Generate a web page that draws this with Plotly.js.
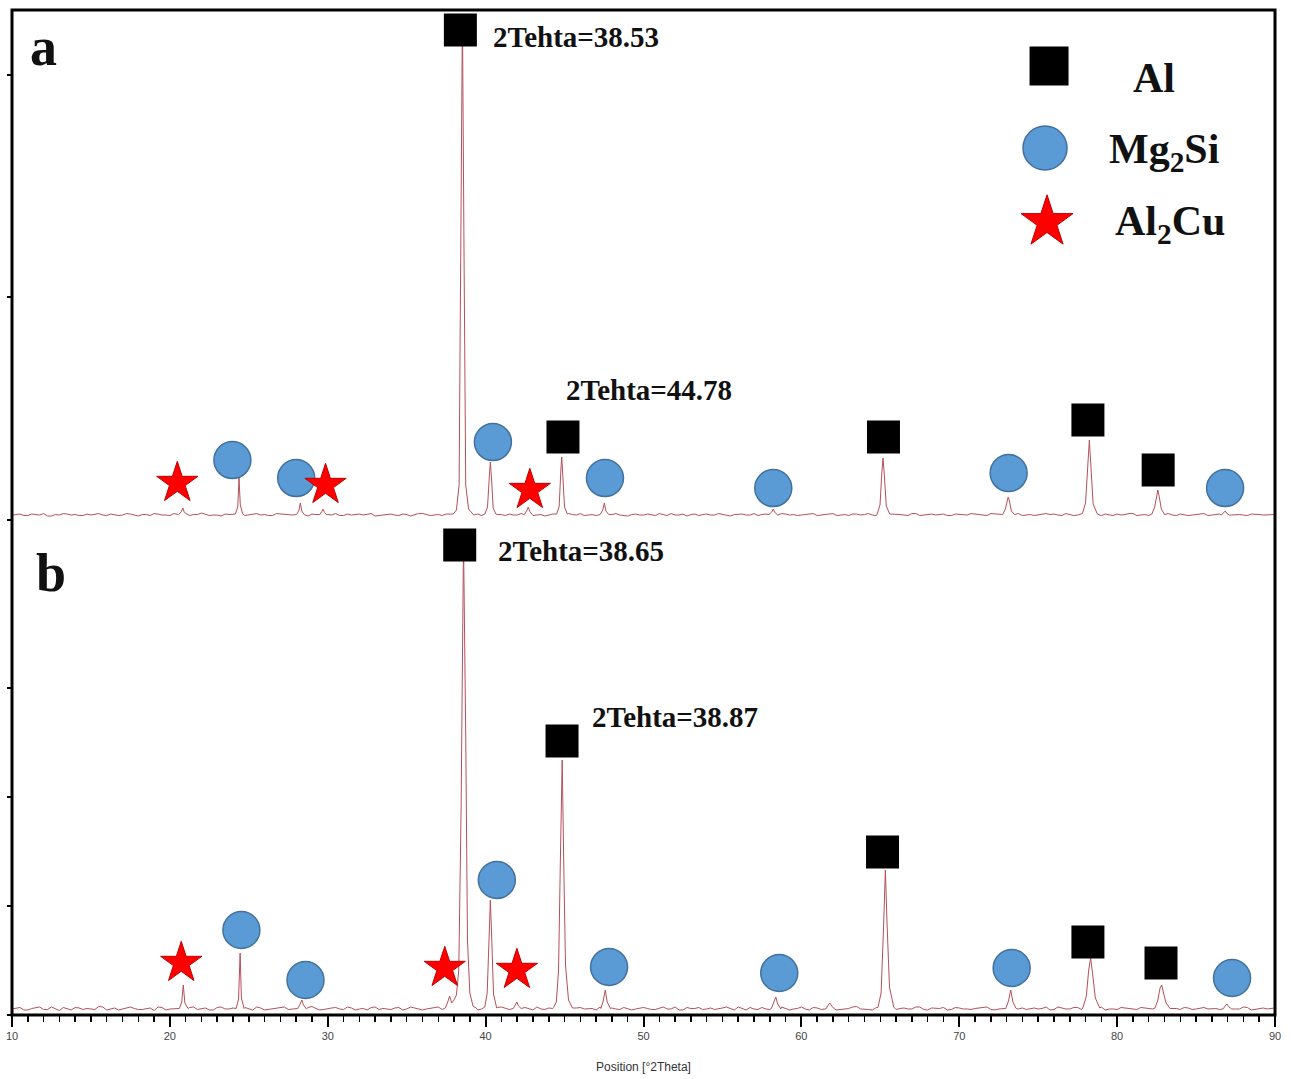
<!DOCTYPE html>
<html><head><meta charset="utf-8">
<script src="https://cdn.plot.ly/plotly-3.0.1.min.js"></script>
<style>html,body{margin:0;padding:0;background:#fff}#chart{width:1293px;height:1079px}</style>
</head><body><div id="chart"></div>
<script>
// ---- sampling grids for the background (2θ) ----
const gridStart = 10, gridStep = 0.5, gridCount = 161;      // 10, 10.5, ... 90
const halfStart = 10.25, halfCount = 160;                    // 10.25, 10.75, ... 89.75

// ---- background counts, panel a ----
const baseA = [10,12,9,11,13,8,10,12,11,9,10,13,9,11,10,12,8,11,13,10,
  9,12,10,11,14,9,10,12,11,8,10,13,11,9,12,10,11,9,12,10,
  11,13,9,10,12,11,8,10,12,9,11,10,13,9,11,12,10,9,11,12,
  10,8,11,12,10,13,9,11,10,12,9,11,13,10,9,12,11,10,8,12,
  10,11,13,9,10,12,11,9,12,10,11,8,12,10,13,11,9,10,12,11,
  10,12,9,11,13,10,9,12,11,10,8,11,12,10,13,9,11,10,12,9,
  11,10,12,9,13,11,10,12,9,11,10,13,12,9,11,10,12,11,9,10,
  12,11,13,10,9,12,11,10,12,9,11,13,10,12,9,11,10,12,11,10,
  11];
const baseA2 = [11,9,12,10,8,11,13,10,9,12,11,10,12,9,13,10,11,9,12,10,
  13,10,9,11,12,10,8,11,13,9,12,10,9,13,11,10,12,8,11,13,
  10,9,12,11,10,13,9,11,10,12,8,13,11,10,9,12,11,13,10,9,
  12,11,9,10,13,11,10,8,12,11,13,10,9,11,12,10,13,9,11,10,
  12,9,11,13,10,8,12,11,10,13,9,11,12,10,9,12,11,13,10,9,
  11,13,10,12,9,11,12,10,13,9,10,12,11,9,13,10,12,11,9,12,
  10,13,11,9,12,10,11,13,10,9,12,11,10,13,9,12,11,10,12,9,
  10,13,9,11,12,10,13,9,11,10,12,9,11,13,10,11,9,12,10,11];

// ---- background counts, panel b ----
const baseB = [12,15,10,14,11,16,9,13,15,11,12,17,10,14,12,16,11,13,9,15,
  12,14,11,16,13,10,15,12,14,11,13,16,10,12,15,11,14,12,17,10,
  13,15,11,14,12,10,16,13,11,15,12,14,10,13,16,12,11,15,13,10,
  14,12,16,11,13,15,10,12,14,17,11,13,15,12,10,16,14,11,13,12,
  15,11,14,12,16,10,13,15,12,11,14,13,16,10,12,15,11,14,13,12,
  16,10,14,12,15,11,13,17,12,10,15,13,11,14,12,16,10,13,15,11,
  14,12,13,16,11,12,15,10,14,13,12,16,11,14,12,15,10,13,16,12,
  11,14,13,15,12,10,16,13,11,14,12,15,13,11,14,12,16,10,13,12,
  14];
const baseB2 = [14,10,13,16,11,12,15,10,14,13,11,16,12,10,15,13,11,14,16,10,
  13,12,15,11,14,10,16,12,13,15,10,14,11,13,16,12,10,15,13,11,
  14,12,16,10,13,15,11,12,14,10,16,13,12,15,11,14,10,13,16,12,
  11,15,13,10,14,12,16,11,13,15,10,14,12,13,16,11,12,15,10,14,
  13,11,16,12,10,15,13,11,14,12,16,10,13,15,11,12,14,16,10,13,
  12,15,11,14,10,13,16,12,11,15,14,10,13,12,16,11,14,13,10,15,
  12,11,14,16,10,13,15,12,11,14,13,10,16,12,15,11,13,14,10,12,
  15,13,11,14,12,16,10,13,15,11,14,12,13,16,10,12,15,11,14,13];

// ---- peak profiles [2θ, counts], panel a ----
const peaksA = [
 [[20.55,11],[20.72,16],[20.82,24],[20.92,15],[21.1,11]],
 [[24.15,12],[24.3,26],[24.38,84],[24.46,30],[24.62,12]],
 [[28.05,12],[28.18,20],[28.26,34],[28.36,18],[28.5,11]],
 [[29.5,11],[29.62,17],[29.7,22],[29.8,15],[29.95,10]],
 [[37.95,12],[38.15,20],[38.32,70],[38.43,560],[38.53,1010],[38.63,540],[38.74,70],[38.92,22],[39.15,12]],
 [[39.95,12],[40.12,26],[40.24,90],[40.3,116],[40.37,84],[40.48,24],[40.65,12]],
 [[42.45,11],[42.6,18],[42.7,26],[42.8,17],[42.95,11]],
 [[44.5,12],[44.66,28],[44.76,96],[44.82,126],[44.89,88],[45.0,26],[45.18,12]],
 [[47.25,11],[47.42,20],[47.52,34],[47.62,18],[47.8,11]],
 [[57.95,11],[58.12,16],[58.22,22],[58.32,15],[58.5,10]],
 [[64.8,12],[64.98,30],[65.1,96],[65.17,124],[65.25,92],[65.38,28],[65.6,12]],
 [[72.75,11],[72.92,22],[73.04,42],[73.1,46],[73.18,38],[73.3,18],[73.5,11]],
 [[77.8,13],[78.0,34],[78.15,120],[78.24,160],[78.32,118],[78.48,32],[78.75,12]],
 [[82.2,12],[82.38,26],[82.5,52],[82.58,60],[82.66,48],[82.8,22],[83.0,11]],
 [[86.6,10],[86.75,14],[86.85,18],[86.95,13],[87.1,10]]
];

// ---- peak profiles [2θ, counts], panel b ----
const peaksB = [
 [[20.6,13],[20.75,26],[20.85,60],[20.95,24],[21.15,13]],
 [[24.2,13],[24.35,32],[24.45,124],[24.53,34],[24.7,13]],
 [[28.1,13],[28.25,22],[28.36,30],[28.46,20],[28.65,12]],
 [[37.45,14],[37.6,26],[37.72,38],[37.85,24],[38.0,30],[38.15,40],[38.3,90],[38.45,420],[38.6,950],[38.74,560],[38.85,150],[39.0,44],[39.2,18],[39.4,14]],
 [[39.95,16],[40.1,44],[40.22,170],[40.3,230],[40.38,160],[40.5,42],[40.7,14]],
 [[41.75,13],[41.88,20],[41.98,26],[42.08,18],[42.25,13]],
 [[44.3,15],[44.48,26],[44.62,90],[44.74,320],[44.85,510],[44.95,300],[45.06,100],[45.25,30],[45.5,14]],
 [[47.3,13],[47.45,28],[47.58,50],[47.7,26],[47.9,13]],
 [[58.1,13],[58.25,24],[58.38,36],[58.5,22],[58.7,12]],
 [[61.55,12],[61.7,20],[61.8,24],[61.92,18],[62.1,12]],
 [[64.85,15],[65.05,44],[65.2,170],[65.32,290],[65.43,180],[65.58,56],[65.85,16]],
 [[72.95,13],[73.12,28],[73.26,50],[73.4,26],[73.6,13]],
 [[77.85,16],[78.05,38],[78.2,90],[78.32,114],[78.44,84],[78.62,34],[78.9,14]],
 [[82.4,14],[82.58,30],[82.72,54],[82.82,60],[82.94,44],[83.1,24],[83.35,13]],
 [[86.7,12],[86.85,18],[86.95,22],[87.05,17],[87.25,12]]
];

// ---- phase markers (2θ, counts) ----
const alA_x = [38.4, 44.9, 65.2, 78.15, 82.6];
const alA_y = [980, 166, 166, 200, 100];
const mgA_x = [23.96, 28.0, 40.46, 47.56, 58.22, 73.13, 86.84];
const mgA_y = [120, 84, 156, 84, 64, 94, 64];
const cuA_x = [20.47, 29.86, 42.8];
const cuA_y = [74, 70, 60];

const alB_x = [38.36, 44.84, 65.14, 78.15, 82.78];
const alB_y = [940, 548, 326, 146, 104];
const mgB_x = [24.53, 28.59, 40.71, 47.82, 58.6, 73.32, 87.28];
const mgB_y = [170, 70, 270, 96, 84, 94, 74];
const cuB_x = [20.72, 37.41, 41.98];
const cuB_y = [104, 94, 90];

const xTicks = [10,20,30,40,50,60,70,80,90];
const phaseNames = ['Al', 'Mg<sub>2</sub>Si', 'Al<sub>2</sub>Cu'];
const peakLabels = ['2Tehta=38.53', '2Tehta=44.78', '2Tehta=38.65', '2Tehta=38.87'];

// ---- build patterns ----
function buildPattern(base, base2, peaks) {
  const pts = [];
  const inPeak = x => peaks.some(p => x >= p[0][0] && x <= p[p.length - 1][0]);
  for (let i = 0; i < gridCount; i++) {
    const x = gridStart + i * gridStep;
    if (!inPeak(x)) pts.push([x, base[i]]);
  }
  for (let i = 0; i < halfCount; i++) {
    const x = halfStart + i * gridStep;
    if (!inPeak(x)) pts.push([x, base2[i]]);
  }
  peaks.forEach(p => p.forEach(q => pts.push(q)));
  pts.sort((a, b) => a[0] - b[0]);
  return {x: pts.map(p => p[0]), y: pts.map(p => p[1])};
}
const patA = buildPattern(baseA, baseA2, peaksA);
const patB = buildPattern(baseB, baseB2, peaksB);

const lineColor = '#b4505c';
const sqStyle = {symbol: 'square', size: 33, color: '#000', line: {width: 0}};
const ciStyle = {symbol: 'circle', size: 37, color: '#5b9bd5', line: {width: 1.5, color: '#41719c'}};
const stStyle = {symbol: 'star', size: 31, color: '#ff0000', line: {width: 1, color: '#c00000'}};

const traces = [
  {x: patA.x, y: patA.y, xaxis: 'x', yaxis: 'y2', mode: 'lines', line: {color: lineColor, width: 1}, hoverinfo: 'skip'},
  {x: patB.x, y: patB.y, xaxis: 'x', yaxis: 'y', mode: 'lines', line: {color: lineColor, width: 1}, hoverinfo: 'skip'},
  {x: alA_x, y: alA_y, xaxis: 'x', yaxis: 'y2', mode: 'markers', marker: sqStyle, cliponaxis: false},
  {x: mgA_x, y: mgA_y, xaxis: 'x', yaxis: 'y2', mode: 'markers', marker: ciStyle, cliponaxis: false},
  {x: cuA_x, y: cuA_y, xaxis: 'x', yaxis: 'y2', mode: 'markers', marker: stStyle, cliponaxis: false},
  {x: alB_x, y: alB_y, xaxis: 'x', yaxis: 'y', mode: 'markers', marker: sqStyle, cliponaxis: false},
  {x: mgB_x, y: mgB_y, xaxis: 'x', yaxis: 'y', mode: 'markers', marker: ciStyle, cliponaxis: false},
  {x: cuB_x, y: cuB_y, xaxis: 'x', yaxis: 'y', mode: 'markers', marker: stStyle, cliponaxis: false},
  // legend key symbols on an overlay axis pair spanning the plot area
  {x: [0.8211], y: [0.9443], xaxis: 'x3', yaxis: 'y3', mode: 'markers', marker: Object.assign({}, sqStyle, {size: 39}), cliponaxis: false},
  {x: [0.8179], y: [0.8627], xaxis: 'x3', yaxis: 'y3', mode: 'markers', marker: Object.assign({}, ciStyle, {size: 44}), cliponaxis: false},
  {x: [0.8195], y: [0.789], xaxis: 'x3', yaxis: 'y3', mode: 'markers', marker: Object.assign({}, stStyle, {size: 39}), cliponaxis: false}
];

const serifBold = {family: 'Liberation Serif, Times New Roman, serif', weight: 'bold', color: '#111'};
function ann(text, x, y, size, xanchor) {
  return {text: text, xref: 'paper', yref: 'paper', x: x, y: y, xanchor: xanchor, yanchor: 'middle',
          showarrow: false, font: Object.assign({}, serifBold, {size: size})};
}

const layout = {
  width: 1293, height: 1079,
  margin: {l: 12, r: 18, t: 10, b: 64},
  paper_bgcolor: '#ffffff', plot_bgcolor: 'rgba(0,0,0,0)',
  showlegend: false,
  xaxis: {
    range: [10, 90], domain: [0, 1], anchor: 'y',
    tickvals: xTicks, ticktext: xTicks.map(String),
    ticks: 'outside', ticklen: 11, tickwidth: 2, tickcolor: '#000',
    minor: {dtick: 1, ticks: 'outside', ticklen: 6, tickwidth: 1.5, tickcolor: '#000', showgrid: false},
    showgrid: false, zeroline: false, showline: false,
    tickfont: {family: 'Liberation Sans, Arial, sans-serif', size: 11, color: '#444'},
    title: {text: 'Position [°2Theta]', font: {family: 'Liberation Sans, Arial, sans-serif', size: 12, color: '#333'}, standoff: 21}
  },
  yaxis: {
    domain: [0, 0.4925], range: [0, 990], anchor: 'x',
    tickvals: [0, 218, 436, 654], ticks: 'outside', ticklen: 4, tickwidth: 1.5, tickcolor: '#000',
    showticklabels: false, showgrid: false, zeroline: false, showline: false
  },
  yaxis2: {
    domain: [0.4925, 1], range: [0, 1020], anchor: 'x',
    tickvals: [0, 446, 890], ticks: 'outside', ticklen: 4, tickwidth: 1.5, tickcolor: '#000',
    showticklabels: false, showgrid: false, zeroline: false, showline: false
  },
  xaxis3: {domain: [0, 1], range: [0, 1], anchor: 'y3', visible: false, fixedrange: true},
  yaxis3: {domain: [0, 1], range: [0, 1], anchor: 'x3', visible: false, fixedrange: true},
  shapes: [
    {type: 'rect', xref: 'paper', yref: 'paper', x0: 0, x1: 1, y0: 0, y1: 1, line: {color: '#000', width: 3}, layer: 'above'}
  ],
  annotations: [
    ann('a', 0.0253, 0.963, 54, 'center'),
    ann('b', 0.0309, 0.4398, 54, 'center'),
    ann(peakLabels[0], 0.379, 0.973, 29, 'left'),
    ann(peakLabels[1], 0.4370, 0.6219, 29, 'left'),
    ann(peakLabels[2], 0.383, 0.4617, 29, 'left'),
    ann(peakLabels[3], 0.4576, 0.2965, 29, 'left'),
    ann(phaseNames[0], 0.9042, 0.9323, 42, 'center'),
    ann(phaseNames[1], 0.9129, 0.8587, 42, 'center'),
    ann(phaseNames[2], 0.9168, 0.787, 42, 'center')
  ]
};

Plotly.newPlot('chart', traces, layout, {displayModeBar: false, staticPlot: true});
</script>
</body></html>
